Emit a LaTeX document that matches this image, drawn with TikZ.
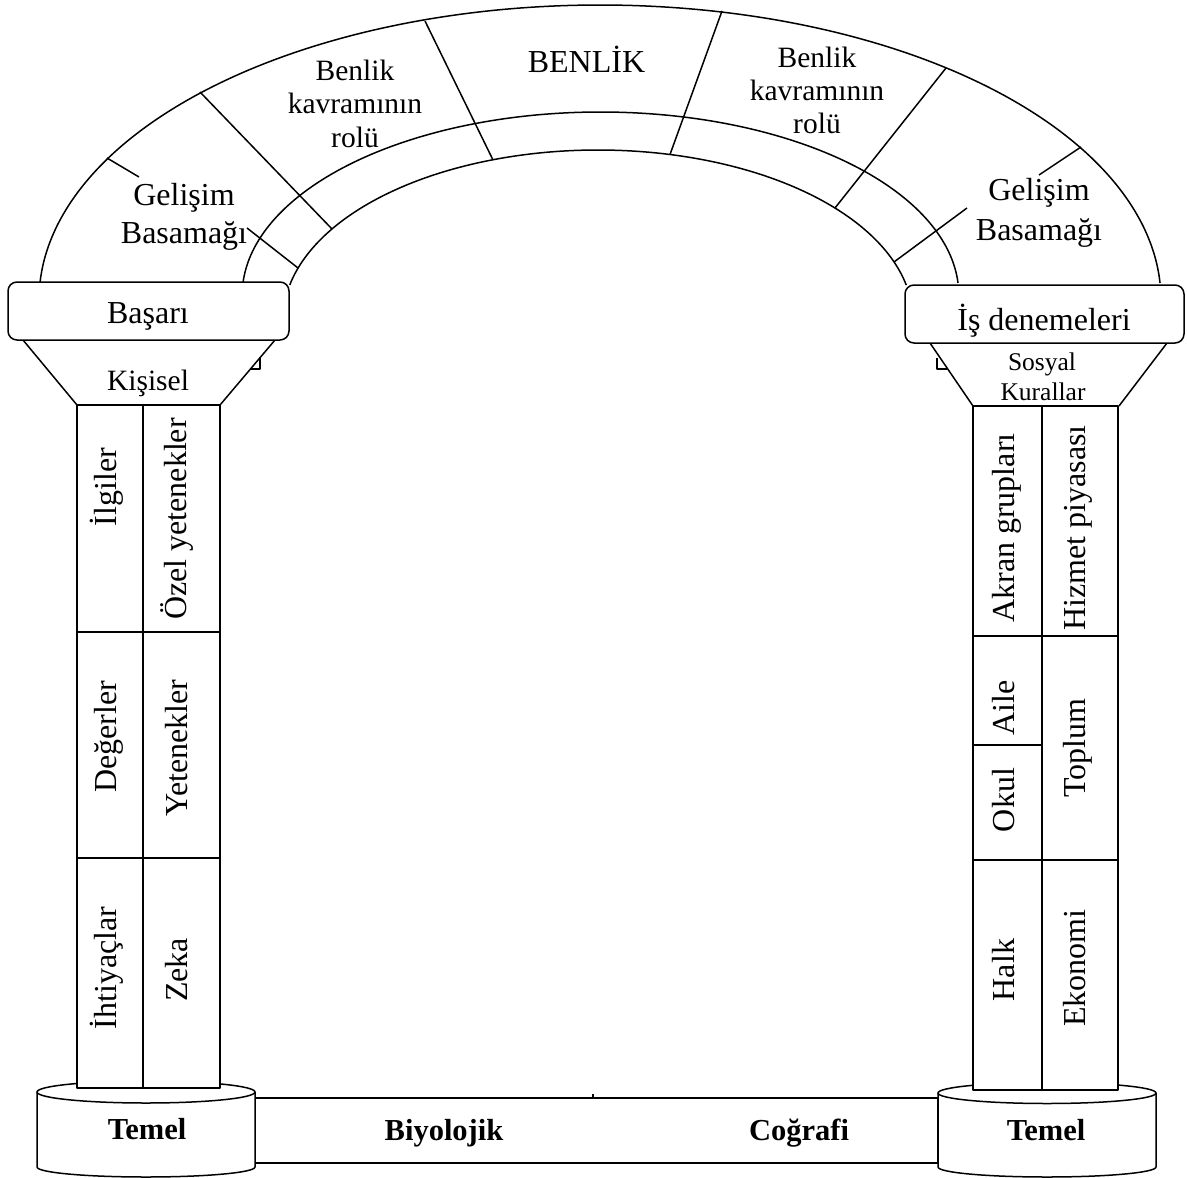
\documentclass[tikz,border=0pt]{standalone}
\usepackage{fontspec}
\setmainfont{Liberation Serif}
\begin{document}
\begin{tikzpicture}[x=1pt,y=-1pt, line width=1.5pt, line join=round,
  lbl/.style={font=\fontsize{32}{36}\selectfont, inner sep=0pt, anchor=base},
  lblsm/.style={font=\fontsize{29.5}{33}\selectfont, inner sep=0pt, anchor=base},
  lblxs/.style={font=\fontsize{25.5}{29}\selectfont, inner sep=0pt, anchor=base},
  vlbl/.style={font=\fontsize{32}{36}\selectfont, inner sep=0pt, rotate=90, anchor=mid},
  blbl/.style={font=\fontsize{30.5}{34}\selectfont\bfseries, inner sep=0pt, anchor=base},
  capbox/.style={draw, fill=white, rounded corners=9pt},
  tinymark/.style={line width=1.2pt}]
\useasboundingbox (0,0) rectangle (1187,1178);

% ---- arch curves ----
\draw plot[domain=3.3:176.7, samples=150, smooth] ({600+561*cos(\x)}, {300-295*sin(\x)});
\draw plot[domain=3.76:176.24, samples=150, smooth] ({600.5+358.3*cos(\x)}, {295-183*sin(\x)});
\draw plot[domain=11.88:168.12, samples=150, smooth] ({598+315*cos(\x)}, {320-170*sin(\x)});

% ---- radial lines ----
\draw (107,158) -- (139,177);
\draw (247,228) -- (298,268);
\draw (200,92) -- (332,229);
\draw (425,21) -- (493,160);
\draw (722,11) -- (670,154.5);
\draw (946,68) -- (835,208);
\draw (1081,147) -- (1039,175);
\draw (967,208) -- (894,262);

% ---- arch labels ----
\node[lbl] (gel1) at (184,205) {Gelişim};
\node[lbl] (bas1) at (184,243) {Basamağı};
\node[lbl] (gel2) at (1039,200) {Gelişim};
\node[lbl] (bas2) at (1039,240) {Basamağı};
\node[lblsm] (ben1) at (355,80) {Benlik};
\node[lblsm] (kav1) at (355,113) {kavramının};
\node[lblsm] (rol1) at (355,147) {rolü};
\node[lblsm] (ben2) at (817,67) {Benlik};
\node[lblsm] (kav2) at (817,100) {kavramının};
\node[lblsm] (rol2) at (817,133) {rolü};
\node[lbl] (benlik) at (586.5,72) {BENLİK};

% ---- capitals ----
\draw (23,340) -- (77,405);
\draw (275,340) -- (220,405);
\draw (930,343) -- (973,406);
\draw (1167,343) -- (1119,406);
\draw[tinymark] (251,369) -- (260,369) -- (260,357);
\draw[tinymark] (947,369) -- (937,369) -- (937,358);
\draw[capbox] (8,282) rectangle (289,340);
\draw[capbox] (905,285) rectangle (1184,343);
\node[lbl] (basari) at (148,323) {Başarı};
\node[lblsm] (kisisel) at (148,390) {Kişisel};
\node[lbl] (isden) at (1044,330) {İş denemeleri};
\node[lblxs] (sosyal) at (1042,370) {Sosyal};
\node[lblxs] (kurallar) at (1043,400) {Kurallar};

% ---- base slab and cylinders ----
\draw[fill=white] (255,1098) rectangle (938,1163);
\draw (593,1098) -- (593,1094);
\draw[fill=white] (37,1092) -- (37,1167) arc[start angle=180, end angle=360, x radius=109pt, y radius=10pt] -- (255,1092) -- cycle;
\draw[fill=white] (146,1092) ellipse [x radius=109pt, y radius=11pt];
\draw[fill=white] (938,1093) -- (938,1167) arc[start angle=180, end angle=360, x radius=109pt, y radius=10pt] -- (1156,1093) -- cycle;
\draw[fill=white] (1047,1093) ellipse [x radius=109pt, y radius=10.5pt];

% ---- columns ----
\draw[fill=white] (77,405) rectangle (220,1088);
\draw (143,405) -- (143,1088);
\draw (77,632) -- (220,632);
\draw (77,858) -- (220,858);
\draw[fill=white] (973,406) rectangle (1118,1090);
\draw (1042,406) -- (1042,1090);
\draw (973,636) -- (1118,636);
\draw (973,745) -- (1042,745);
\draw (973,860) -- (1118,860);

% ---- column labels ----
\node[vlbl] (ilgiler) at (114,487) {İlgiler};
\node[vlbl] (ozel) at (184,519) {Özel yetenekler};
\node[vlbl] (degerler) at (114,737) {Değerler};
\node[vlbl] (yetenekler) at (185,748) {Yetenekler};
\node[vlbl] (ihtiyac) at (114,968) {İhtiyaçlar};
\node[vlbl] (zeka) at (185,970) {Zeka};
\node[vlbl] (akran) at (1012,528) {Akran grupları};
\node[vlbl] (hizmet) at (1083,528) {Hizmet piyasası};
\node[vlbl] (aile) at (1012,708) {Aile};
\node[vlbl] (okul) at (1012,800) {Okul};
\node[vlbl] (toplum) at (1083,748) {Toplum};
\node[vlbl] (halk) at (1012,970) {Halk};
\node[vlbl] (ekonomi) at (1083,968) {Ekonomi};

% ---- base labels ----
\node[blbl] (temel1) at (147,1139) {Temel};
\node[blbl] (biyo) at (444,1140) {Biyolojik};
\node[blbl] (cog) at (799,1140) {Coğrafi};
\node[blbl] (temel2) at (1046,1140) {Temel};
\end{tikzpicture}
\end{document}
